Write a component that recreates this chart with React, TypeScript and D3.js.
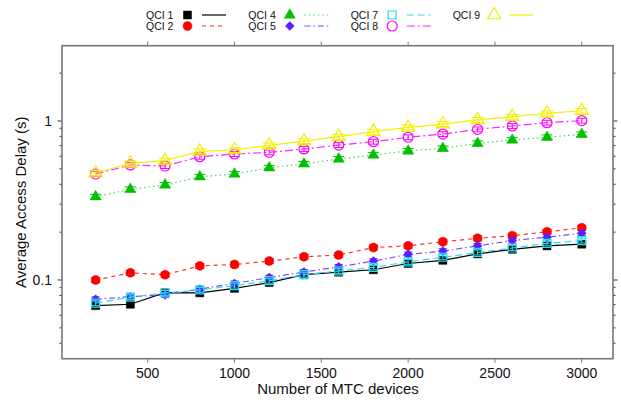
import React from "react";
import * as d3 from "d3";

// Number of MTC devices (x values shared by all series)
const devices = [200, 400, 600, 800, 1000, 1200, 1400, 1600, 1800, 2000, 2200, 2400, 2600, 2800, 3000];

// Average access delay (s) per QCI class
const qci1 = [0.069, 0.0704, 0.0832, 0.083, 0.0886, 0.0964, 0.108, 0.112, 0.116, 0.127, 0.133, 0.146, 0.156, 0.164, 0.168];
const qci2 = [0.1, 0.111, 0.108, 0.1227, 0.1252, 0.1316, 0.14, 0.1436, 0.16, 0.164, 0.174, 0.183, 0.19, 0.201, 0.213];
const qci4 = [0.334, 0.372, 0.396, 0.446, 0.464, 0.508, 0.537, 0.577, 0.611, 0.648, 0.673, 0.724, 0.759, 0.79, 0.825];
const qci5 = [0.0757, 0.0786, 0.0806, 0.0877, 0.0952, 0.1036, 0.1123, 0.121, 0.1315, 0.145, 0.152, 0.164, 0.177, 0.186, 0.197];
const qci7 = [0.0715, 0.078, 0.083, 0.0866, 0.0922, 0.099, 0.108, 0.114, 0.12, 0.13, 0.139, 0.149, 0.159, 0.17, 0.177];
const qci8 = [0.464, 0.529, 0.521, 0.596, 0.62, 0.635, 0.667, 0.706, 0.741, 0.79, 0.828, 0.886, 0.93, 0.976, 1.005];
const qci9 = [0.471, 0.542, 0.563, 0.645, 0.657, 0.703, 0.748, 0.797, 0.857, 0.912, 0.957, 1.015, 1.064, 1.118, 1.16];

// Relative half-width of each series' error bars
const relErr = [0.035, 0.035, 0.035, 0.035, 0.035, 0.035, 0.035];

const seriesNames = ["QCI 1", "QCI 2", "QCI 4", "QCI 5", "QCI 7", "QCI 8", "QCI 9"];
const seriesValues = [qci1, qci2, qci4, qci5, qci7, qci8, qci9];

const xTicks = [500, 1000, 1500, 2000, 2500, 3000];
const yMajorTicks = [0.1, 1];
const yMinorTicks = [0.04, 0.05, 0.06, 0.07, 0.08, 0.09, 0.2, 0.3, 0.4, 0.5, 0.6, 0.7, 0.8, 0.9, 2];

type Style = {
  color: string;
  lineColor: string;
  dash: string | null;
  symbol: "square" | "circle" | "triangle" | "diamond";
  filled: boolean;
  size: number;
};

const styles: Style[] = [
  { color: "#000000", lineColor: "#000000", dash: null, symbol: "square", filled: true, size: 8 },
  { color: "#ff0000", lineColor: "#ff3030", dash: "4,4", symbol: "circle", filled: true, size: 9 },
  { color: "#00c000", lineColor: "#55d055", dash: "1.5,3", symbol: "triangle", filled: true, size: 11 },
  { color: "#5a1fff", lineColor: "#7a4fff", dash: "6,3,1.5,3", symbol: "diamond", filled: true, size: 8 },
  { color: "#22e0ee", lineColor: "#33ddee", dash: "7,4", symbol: "square", filled: false, size: 8 },
  { color: "#ff00ff", lineColor: "#ff22ff", dash: "8,3,2,3", symbol: "circle", filled: false, size: 10 },
  { color: "#f0f000", lineColor: "#f0f000", dash: null, symbol: "triangle", filled: false, size: 13 },
];

// Plot frame
const LEFT = 62;
const RIGHT = 613;
const TOP = 45.7;
const BOTTOM = 358.7;

const x = d3.scaleLinear().domain([6.3, 3180]).range([LEFT, RIGHT]);
const y = d3.scaleLog().domain([0.032, 2.975]).range([BOTTOM, TOP]);

function markerPath(s: Style): string {
  const w = s.size;
  if (s.symbol === "square") {
    return d3.symbol().type(d3.symbolSquare).size(w * w)()!;
  }
  if (s.symbol === "circle") {
    return d3.symbol().type(d3.symbolCircle).size(Math.PI * (w / 2) * (w / 2))()!;
  }
  if (s.symbol === "diamond") {
    const h = w / 2 + 0.5;
    return `M0,${-h}L${h},0L0,${h}L${-h},0Z`;
  }
  return d3.symbol().type(d3.symbolTriangle).size((Math.sqrt(3) / 4) * w * w)()!;
}

function Marker({ s, cx, cy }: { s: Style; cx: number; cy: number }) {
  return (
    <path
      d={markerPath(s)}
      transform={`translate(${cx},${cy})`}
      fill={s.filled ? s.color : "none"}
      stroke={s.color}
      strokeWidth={s.filled ? 0.5 : 1.2}
    />
  );
}

const legendCols = [146, 248.3, 350.7, 452.7];
const legendRows = [15, 26];
const font = "'Liberation Sans', Arial, Helvetica, sans-serif";

export default function App() {
  const line = d3
    .line<number>()
    .x((_, i) => x(devices[i]))
    .y((v) => y(v));

  const axisColor = "#777777";

  return (
    <svg width={621} height={403} style={{ position: "absolute", left: 0, top: 0, background: "#fff" }}>
      <rect x={0} y={0} width={621} height={403} fill="#ffffff" />

      {/* x ticks, bottom and mirrored top */}
      {xTicks.map((t) => (
        <g key={`xt${t}`}>
          <line x1={x(t)} x2={x(t)} y1={BOTTOM} y2={BOTTOM + 4} stroke={axisColor} strokeWidth={1} />
          <line x1={x(t)} x2={x(t)} y1={TOP} y2={TOP - 4} stroke={axisColor} strokeWidth={1} />
          <text x={x(t)} y={378} textAnchor="middle" fontFamily={font} fontSize={14} fill="#111">
            {t}
          </text>
        </g>
      ))}

      {/* y ticks, left and mirrored right */}
      {yMajorTicks.map((t) => (
        <g key={`ym${t}`}>
          <line x1={LEFT} x2={LEFT - 4.5} y1={y(t)} y2={y(t)} stroke="#333" strokeWidth={1} />
          <line x1={RIGHT} x2={RIGHT + 4.5} y1={y(t)} y2={y(t)} stroke="#333" strokeWidth={1} />
          <text x={52} y={y(t) + 5} textAnchor="end" fontFamily={font} fontSize={14} fill="#111">
            {t}
          </text>
        </g>
      ))}
      {yMinorTicks.map((t) => (
        <g key={`yn${t}`}>
          <line x1={LEFT} x2={LEFT - 2.5} y1={y(t)} y2={y(t)} stroke="#333" strokeWidth={1} />
          <line x1={RIGHT} x2={RIGHT + 2.5} y1={y(t)} y2={y(t)} stroke="#333" strokeWidth={1} />
        </g>
      ))}

      {/* frame */}
      <rect
        x={LEFT}
        y={TOP}
        width={RIGHT - LEFT}
        height={BOTTOM - TOP}
        fill="none"
        stroke={axisColor}
        strokeWidth={1.6}
      />

      {/* series */}
      {seriesValues.map((vals, si) => {
        const s = styles[si];
        return (
          <g key={seriesNames[si]}>
            <path
              d={line(vals)!}
              fill="none"
              stroke={s.lineColor}
              strokeWidth={1.2}
              strokeDasharray={s.dash ?? undefined}
            />
            {vals.map((v, i) => {
              const cx = x(devices[i]);
              const lo = y(v * (1 - relErr[si]));
              const hi = y(v * (1 + relErr[si]));
              const cap = s.size / 2;
              return (
                <g key={i}>
                  <line x1={cx} x2={cx} y1={lo} y2={hi} stroke={s.color} strokeWidth={1} />
                  <line x1={cx - cap} x2={cx + cap} y1={lo} y2={lo} stroke={s.color} strokeWidth={1} />
                  <line x1={cx - cap} x2={cx + cap} y1={hi} y2={hi} stroke={s.color} strokeWidth={1} />
                  <Marker s={s} cx={cx} cy={y(v)} />
                </g>
              );
            })}
          </g>
        );
      })}

      {/* legend: QCI 1/2, 4/5, 7/8, 9 */}
      {seriesNames.map((name, si) => {
        const col = Math.floor(si / 2);
        const row = si % 2;
        const tx = legendCols[col];
        const ty = legendRows[row];
        const s = styles[si];
        return (
          <g key={`lg${name}`}>
            <text x={tx} y={ty + 4} fontFamily={font} fontSize={10.5} fill="#111">
              {name}
            </text>
            <Marker s={s} cx={tx + 41.5} cy={ty} />
            <line
              x1={tx + 56}
              x2={tx + 80}
              y1={ty}
              y2={ty}
              stroke={s.lineColor}
              strokeWidth={1.2}
              strokeDasharray={s.dash ?? undefined}
            />
          </g>
        );
      })}

      {/* axis titles */}
      <text x={338} y={394} textAnchor="middle" fontFamily={font} fontSize={15} fill="#111">
        Number of MTC devices
      </text>
      <text
        transform={`translate(26, ${(TOP + BOTTOM) / 2}) rotate(-90)`}
        textAnchor="middle"
        fontFamily={font}
        fontSize={15}
        fill="#111"
      >
        Average Access Delay (s)
      </text>
    </svg>
  );
}
